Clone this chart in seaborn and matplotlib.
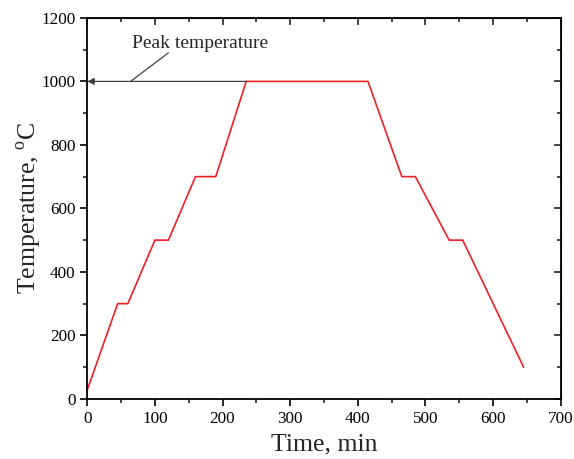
import matplotlib
matplotlib.use("Agg")
import matplotlib.pyplot as plt
from matplotlib.ticker import MultipleLocator
import pandas as pd
import seaborn as sns

# Heating schedule
time_min = [0, 45, 60, 100, 120, 160, 190, 235, 415, 465, 485, 535, 555, 645]
temperature_c = [28, 300, 300, 500, 500, 700, 700, 1000, 1000, 700, 700, 500, 500, 100]

peak_label = "Peak temperature"
peak_temp = 1000
peak_time = 235

sns.set_style("ticks")
plt.rcParams["font.family"] = ["Liberation Serif", "DejaVu Serif"]
plt.rcParams["mathtext.fontset"] = "custom"
plt.rcParams["mathtext.rm"] = "Liberation Serif"

df = pd.DataFrame({"time": time_min, "temp": temperature_c})

fig, ax = plt.subplots(figsize=(5.74, 4.59), dpi=100)
fig.subplots_adjust(left=0.152, right=0.977, top=0.961, bottom=0.131)

sns.lineplot(data=df, x="time", y="temp", ax=ax, color="#ee2024",
             linewidth=1.2, sort=False)

ax.set_xlim(0, 700)
ax.set_ylim(0, 1200)
ax.xaxis.set_major_locator(MultipleLocator(100))
ax.xaxis.set_minor_locator(MultipleLocator(50))
ax.yaxis.set_major_locator(MultipleLocator(200))
ax.yaxis.set_minor_locator(MultipleLocator(100))
ax.tick_params(which="major", direction="out", length=5, width=1.2, labelsize=12.3, colors="black")
ax.tick_params(which="minor", direction="out", length=3, width=1.2)

for side in ["top", "right"]:
    ax.spines[side].set_visible(True)
for sp in ax.spines.values():
    sp.set_linewidth(1.3)
    sp.set_color("black")

# inward ticks on top and right
top = ax.secondary_xaxis("top")
top.xaxis.set_major_locator(MultipleLocator(100))
top.xaxis.set_minor_locator(MultipleLocator(50))
top.tick_params(which="major", direction="in", length=5, width=1.2, labeltop=False)
top.tick_params(which="minor", direction="in", length=3, width=1.2)
right = ax.secondary_yaxis("right")
right.yaxis.set_major_locator(MultipleLocator(200))
right.yaxis.set_minor_locator(MultipleLocator(100))
right.tick_params(which="major", direction="in", length=5, width=1.2, labelright=False)
right.tick_params(which="minor", direction="in", length=3, width=1.2)

ax.set_xlabel("Time, min", fontsize=18.5, labelpad=5)
ax.set_ylabel(r"Temperature, $^{\rm o}$C", fontsize=18.5, labelpad=-2)

# arrow from the plateau back to the axis
ax.annotate("", xy=(0, peak_temp), xytext=(peak_time, peak_temp),
            arrowprops=dict(arrowstyle="-|>", color="#404040", lw=0.9,
                            mutation_scale=10, shrinkA=0, shrinkB=0))
ax.annotate(peak_label, xy=(64, peak_temp), xytext=(66, 1118),
            fontsize=14, va="center", ha="left")
ax.plot([64, 120], [peak_temp, 1090], color="#404040", lw=0.9)

fig.savefig("out.png", dpi=100)
